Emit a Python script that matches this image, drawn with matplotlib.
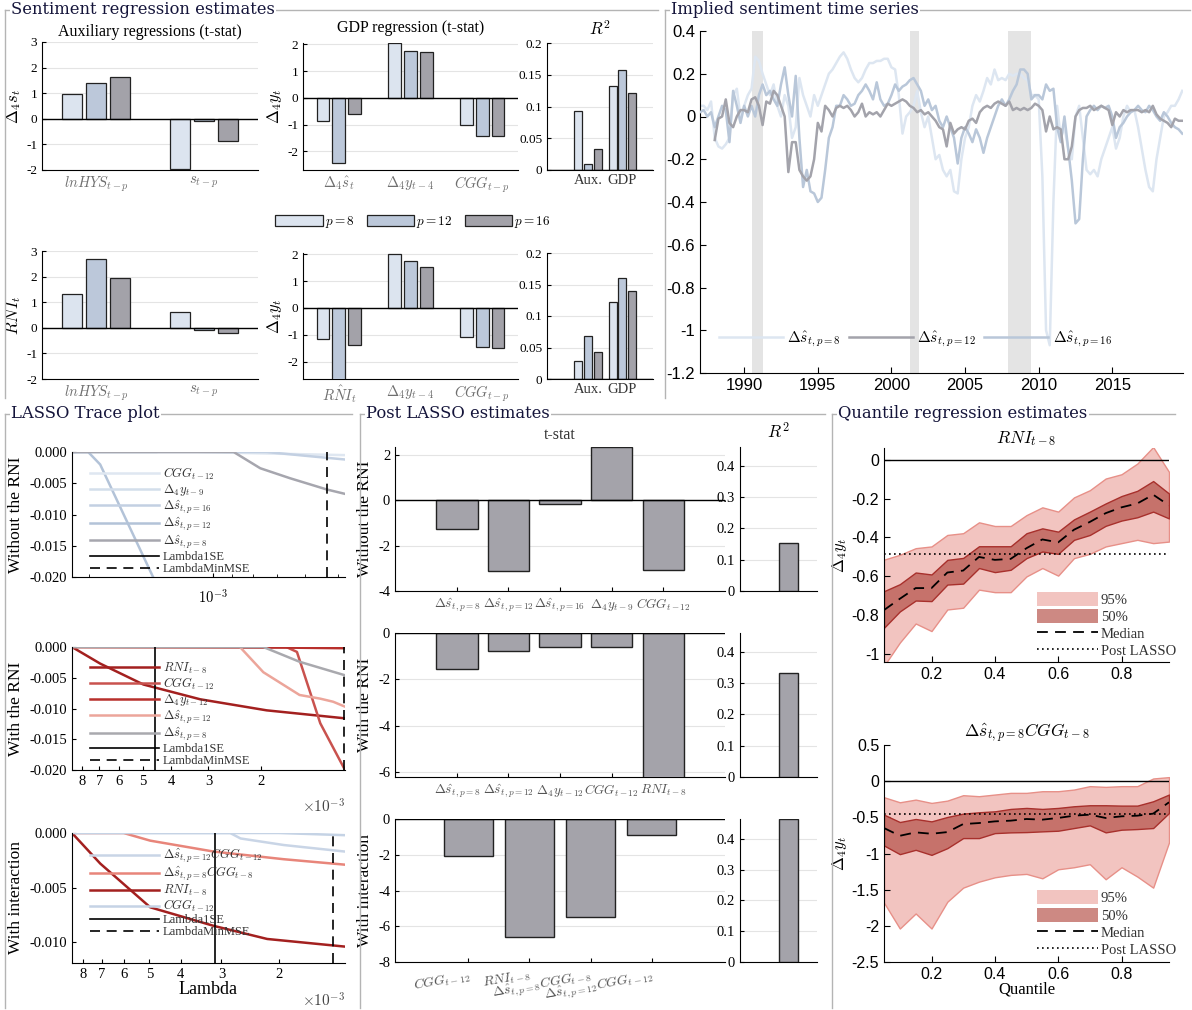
import numpy as np
import matplotlib
matplotlib.use("Agg")
import matplotlib.pyplot as plt
from matplotlib.lines import Line2D
from matplotlib.patches import Patch
from matplotlib.ticker import NullFormatter, NullLocator

plt.rcParams['mathtext.fontset'] = 'cm'
plt.rcParams['font.family'] = ['Liberation Serif', 'DejaVu Serif']
plt.rcParams['axes.unicode_minus'] = False
plt.rcParams['xtick.direction'] = 'in'
plt.rcParams['ytick.direction'] = 'in'

# ---------------- data ----------------
p_labels = ['$p = 8$', '$p = 12$', '$p = 16$']
p_colors = ['#dce4ef', '#bcc8da', '#a3a2a9']

aux_cats = [r'$lnHYS_{t-p}$', r'$s_{t-p}$']
aux_top = [[0.97, 1.40, 1.63], [-1.98, -0.10, -0.85]]
aux_bot = [[1.33, 2.67, 1.95], [0.60, -0.10, -0.20]]

gdp_cats_top = [r'$\Delta_4\hat{s}_t$', r'$\Delta_4 y_{t-4}$', r'$CGG_{t-p}$']
gdp_cats_bot = [r'$R\hat{N}I_t$', r'$\Delta_4 y_{t-4}$', r'$CGG_{t-p}$']
gdp_top = [[-0.85, -2.45, -0.62], [2.05, 1.75, 1.70], [-1.03, -1.43, -1.43]]
gdp_bot = [[-1.15, -2.90, -1.38], [2.03, 1.74, 1.51], [-1.08, -1.46, -1.51]]

r2_cats = ['Aux.', 'GDP']
r2_top = [[0.093, 0.010, 0.033], [0.132, 0.158, 0.122]]
r2_bot = [[0.028, 0.069, 0.043], [0.123, 0.161, 0.139]]

# implied sentiment, quarterly
ts_start_8 = 1987.0
ts_p8 = [0.05, 0.05, 0.03, 0.07,  -0.10, -0.14, -0.15, -0.13,  -0.10, 0.10, 0.13, 0.00,
         0.05, 0.10, 0.13, 0.28,  0.26, 0.20, 0.15, 0.10,  0.15, 0.05, 0.00, 0.10,
         0.05, -0.10, -0.05, 0.18,  0.10, 0.05, 0.00, 0.10,  0.05, 0.10, 0.15, 0.20,
         0.22, 0.25, 0.28, 0.30,  0.27, 0.22, 0.18, 0.16,  0.18, 0.22, 0.25, 0.25,
         0.26, 0.26, 0.27, 0.27,  0.23, 0.22, 0.10, -0.08,  0.00, 0.02, 0.05, 0.12,
         0.02, -0.05, 0.00, -0.10,  -0.20, -0.18, -0.25, -0.28,  -0.25, -0.35, -0.36, -0.20,
         -0.10, -0.05, 0.05, 0.10,  0.07, 0.12, 0.18, 0.15,  0.22, 0.17, 0.18, 0.17,
         0.20, 0.19, 0.20, 0.20,  0.18, 0.17, 0.10, 0.10,  0.08, -0.28, -1.00, -1.07,
         -0.40, 0.05, -0.10, -0.05,  -0.15, -0.20, 0.00, 0.05,  -0.10, -0.25, -0.27, -0.25,
         -0.28, -0.20, -0.15, -0.10,  -0.05, -0.15, -0.10, 0.00,  0.05, 0.02, 0.03, -0.05,
         -0.15, -0.25, -0.33, -0.35,  -0.20, -0.10, 0.00, 0.02,  0.05, 0.05, 0.08, 0.12]
ts_start_12 = 1988.0
ts_p12 = [-0.11, -0.01, 0.00, 0.08,  -0.03, -0.05, 0.00, 0.03,  0.03, 0.02, 0.08, 0.09,
          0.05, -0.04, 0.07, 0.06,  0.12, 0.10, 0.05, 0.00,  -0.26, -0.12, -0.12, -0.25,
          -0.28, -0.30, -0.28, -0.20,  -0.03, -0.07, 0.05, 0.03,  0.00, 0.04, 0.05, 0.04,
          0.05, 0.03, 0.00, 0.02,  0.06, 0.00, 0.02, 0.01,  0.02, 0.00, 0.03, 0.06,
          0.05, 0.06, 0.07, 0.08,  0.07, 0.05, 0.04, 0.02,  0.03, 0.01, 0.02, 0.00,
          -0.02, -0.05, -0.06, -0.14,  -0.03, -0.08, -0.06, -0.05,  -0.06, -0.02, -0.01, -0.03,
          0.02, 0.04, 0.05, 0.04,  0.06, 0.07, 0.06, 0.05,  0.07, 0.03, 0.04, 0.03,
          0.04, 0.03, 0.04, 0.06,  0.05, 0.03, -0.07, 0.00,  -0.06, -0.05, -0.06, -0.20,
          -0.20, -0.14, 0.00, 0.03,  0.04, 0.04, 0.05, 0.03,  0.04, 0.05, 0.04, 0.03,
          -0.04, 0.02, 0.00, 0.03,  0.02, 0.03, 0.03, 0.03,  0.02, 0.03, 0.02, 0.05,
          0.01, -0.01, -0.02, -0.03,  -0.05, -0.01, -0.02, -0.02]
ts_start_16 = 1987.0
ts_p16 = [0.02, 0.03, 0.00, 0.02,  -0.05, 0.00, 0.05, 0.03,  -0.12, 0.12, 0.05, -0.03,
          0.05, 0.00, 0.05, 0.00,  0.10, 0.15, 0.10, 0.12,  0.08, 0.05, 0.15, 0.23,
          0.10, 0.00, 0.19, -0.10,  -0.33, -0.25, -0.35, -0.36,  -0.40, -0.38, -0.25, -0.10,
          -0.05, 0.05, 0.05, 0.10,  0.08, 0.05, 0.06, 0.10,  0.12, 0.15, 0.12, 0.08,
          0.16, 0.08, 0.05, 0.06,  0.10, 0.15, 0.12, 0.14,  0.15, 0.17, 0.18, 0.15,
          0.12, 0.05, 0.08, 0.03,  0.05, -0.02, -0.05, 0.00,  -0.05, -0.10, -0.22, -0.10,
          -0.05, -0.08, -0.12, -0.06,  -0.10, -0.17, -0.10, -0.05,  0.00, 0.05, 0.08, 0.05,
          0.08, 0.12, 0.15, 0.22,  0.22, 0.20, 0.08, 0.10,  0.10, 0.08, 0.15, 0.12,
          0.13, -0.05, -0.12, 0.00,  -0.15, -0.30, -0.50, -0.48,  -0.20, 0.00, 0.03, 0.05,
          0.03, 0.05, 0.04, 0.05,  0.00, -0.10, -0.05, -0.03,  0.00, 0.02, 0.03, 0.05,
          0.03, 0.02, 0.05, 0.03,  0.00, -0.02, 0.02, 0.00,  -0.03, -0.05, -0.06, -0.08]
ts_labels = [r'$\Delta\hat{s}_{t,p=8}$', r'$\Delta\hat{s}_{t,p=12}$', r'$\Delta\hat{s}_{t,p=16}$']
ts_colors = ['#dde6f1', '#a3a3ab', '#b9c7d9']
recessions = [(1990.5, 1991.25), (2001.25, 2001.9), (2007.9, 2009.5)]

# LASSO traces: (label, colour, lambda, coefficient)
lasso_without = [
    (r'$CGG_{t-12}$', '#dfe7f1', [2.2e-3, 1.1e-3, 4.8e-4], [0, 0, -0.0005]),
    (r'$\Delta_4 y_{t-9}$', '#d3deeb', [2.2e-3, 1.37e-3, 1.33e-3], [0, 0, 0.002]),
    (r'$\Delta\hat{s}_{t,p=16}$', '#c3d0e2', [2.2e-3, 7.43e-4, 6.0e-4, 4.8e-4], [0, 0, -0.0006, -0.0012]),
    (r'$\Delta\hat{s}_{t,p=12}$', '#b3c3d8', [2.2e-3, 2.01e-3, 1.88e-3, 1.40e-3, 1.3e-3], [0, 0, -0.002, -0.020, -0.0235]),
    (r'$\Delta\hat{s}_{t,p=8}$', '#a6a6ae', [2.2e-3, 8.93e-4, 7.70e-4, 6.52e-4, 5.31e-4, 4.8e-4],
     [0, 0, -0.0026, -0.0042, -0.0060, -0.0067]),
]
lasso_with = [
    (r'$RNI_{t-8}$', '#a3201f', [8.65e-3, 6.95e-3, 4.97e-3, 3.20e-3, 1.91e-3, 1.04e-3],
     [0, -0.0027, -0.0061, -0.0085, -0.0103, -0.0116]),
    (r'$CGG_{t-12}$', '#c9524e', [8.65e-3, 1.64e-3, 1.51e-3, 1.26e-3, 1.04e-3], [0, 0, -0.0008, -0.0124, -0.020]),
    (r'$\Delta_4 y_{t-12}$', '#b8302c', [8.65e-3, 1.64e-3, 1.04e-3], [0, -0.0001, -0.0002]),
    (r'$\Delta\hat{s}_{t,p=12}$', '#eca59a', [8.65e-3, 2.35e-3, 1.96e-3, 1.48e-3, 1.26e-3, 1.14e-3, 1.04e-3],
     [0, 0, -0.0041, -0.0078, -0.0084, -0.0089, -0.0097]),
    (r'$\Delta\hat{s}_{t,p=8}$', '#a9a9ae', [8.65e-3, 1.96e-3, 1.48e-3, 1.04e-3], [0, 0, -0.0024, -0.0046]),
]
lasso_inter = [
    (r'$\Delta\hat{s}_{t,p=12}CGG_{t-12}$', '#c9d5e6', [8.65e-3, 2.82e-3, 2.62e-3, 1.93e-3, 1.25e-3],
     [0, 0, -0.0005, -0.0011, -0.0017]),
    (r'$\Delta\hat{s}_{t,p=8}CGG_{t-8}$', '#e8857a', [8.65e-3, 6.0e-3, 4.97e-3, 3.17e-3, 1.93e-3, 1.25e-3],
     [0, 0, -0.0007, -0.0017, -0.0024, -0.0029]),
    (r'$RNI_{t-8}$', '#a3201f', [8.65e-3, 7.08e-3, 4.97e-3, 3.17e-3, 2.17e-3, 1.25e-3],
     [0, -0.0028, -0.0068, -0.0085, -0.0097, -0.0104]),
    (r'$CGG_{t-12}$', '#c5d3e5', [8.65e-3, 2.0e-3, 1.25e-3], [0, 0, -0.0002]),
]
lambda_1se = [2.6e-3, 4.54e-3, 3.15e-3]
lambda_minmse = [5.31e-4, 1.045e-3, 1.36e-3]

# post LASSO
post_cats_1 = [r'$\Delta\hat{s}_{t,p=8}$', r'$\Delta\hat{s}_{t,p=12}$', r'$\Delta\hat{s}_{t,p=16}$',
               r'$\Delta_4 y_{t-9}$', r'$CGG_{t-12}$']
post_vals_1 = [-1.25, -3.12, -0.18, 2.35, -3.06]
post_cats_2 = [r'$\Delta\hat{s}_{t,p=8}$', r'$\Delta\hat{s}_{t,p=12}$', r'$\Delta_4 y_{t-12}$',
               r'$CGG_{t-12}$', r'$RNI_{t-8}$']
post_vals_2 = [-1.55, -0.78, -0.62, -0.62, -6.4]
post_cats_3 = [r'$CGG_{t-12}$', r'$RNI_{t-8}$', r'$\Delta\hat{s}_{t,p=8}CGG_{t-8}$',
               r'$\Delta\hat{s}_{t,p=12}CGG_{t-12}$']
post_vals_3 = [-2.05, -6.62, -5.47, -0.92]
post_r2 = [0.153, 0.333, 0.465]

# quantile regressions
quantiles = [0.05, 0.10, 0.15, 0.20, 0.25, 0.30, 0.35, 0.40, 0.45, 0.50,
             0.55, 0.60, 0.65, 0.70, 0.75, 0.80, 0.85, 0.90, 0.95]
rni_med = [-0.773, -0.715, -0.66, -0.66, -0.58, -0.57, -0.50, -0.515, -0.51, -0.455,
           -0.41, -0.425, -0.36, -0.32, -0.275, -0.245, -0.225, -0.18, -0.235]
rni_50_hi = [-0.676, -0.64, -0.58, -0.59, -0.515, -0.505, -0.445, -0.445, -0.445, -0.378,
             -0.353, -0.37, -0.307, -0.267, -0.225, -0.187, -0.16, -0.11, -0.174]
rni_50_lo = [-0.864, -0.78, -0.724, -0.727, -0.642, -0.637, -0.557, -0.578, -0.566, -0.506,
             -0.472, -0.484, -0.412, -0.387, -0.34, -0.313, -0.296, -0.267, -0.302]
rni_95_hi = [-0.514, -0.489, -0.455, -0.446, -0.387, -0.378, -0.322, -0.341, -0.341, -0.285,
             -0.245, -0.267, -0.194, -0.157, -0.097, -0.075, -0.02, 0.065, -0.063]
rni_95_lo = [-1.06, -0.94, -0.842, -0.881, -0.77, -0.761, -0.668, -0.681, -0.681, -0.60,
             -0.557, -0.596, -0.506, -0.484, -0.446, -0.429, -0.412, -0.429, -0.421]
rni_post = -0.485
int_med = [-0.648, -0.755, -0.708, -0.727, -0.704, -0.593, -0.579, -0.556, -0.546, -0.523,
           -0.532, -0.509, -0.477, -0.463, -0.509, -0.486, -0.477, -0.449, -0.292]
int_50_hi = [-0.463, -0.565, -0.523, -0.556, -0.495, -0.449, -0.43, -0.417, -0.384, -0.37,
             -0.384, -0.37, -0.347, -0.333, -0.333, -0.338, -0.338, -0.278, -0.185]
int_50_lo = [-0.889, -1.009, -0.949, -1.019, -0.926, -0.787, -0.787, -0.718, -0.708, -0.704,
             -0.694, -0.685, -0.648, -0.611, -0.708, -0.671, -0.662, -0.648, -0.44]
int_95_hi = [-0.222, -0.292, -0.255, -0.301, -0.269, -0.194, -0.208, -0.185, -0.162, -0.162,
             -0.139, -0.139, -0.116, -0.069, -0.079, -0.069, -0.069, 0.037, 0.056]
int_95_lo = [-1.68, -2.037, -1.829, -2.037, -1.667, -1.472, -1.389, -1.329, -1.296, -1.282,
             -1.343, -1.218, -1.19, -1.148, -1.356, -1.19, -1.319, -1.472, -0.847]
int_post = -0.45

# ---------------- figure ----------------
W, H = 1192, 1010
fig = plt.figure(figsize=(W / 100, H / 100), dpi=100)


def px_axes(l, t, r, b):
    return fig.add_axes([l / W, 1 - b / H, (r - l) / W, (b - t) / H])


def group_box(left, top, right, bottom, title):
    kw = dict(color='#b4b4b4', lw=1, transform=fig.transFigure)
    fig.add_artist(Line2D([left / W, right / W], [1 - top / H, 1 - top / H], **kw))
    fig.add_artist(Line2D([left / W, left / W], [1 - top / H, 1 - bottom / H], **kw))
    fig.text((left + 6) / W, 1 - top / H, title, fontsize=11.8, family='DejaVu Serif',
             color='#14143a', va='center', ha='left',
             bbox=dict(facecolor='white', edgecolor='none', pad=1.0))


def style_bar_axes(ax):
    ax.spines[['top', 'right']].set_visible(False)
    ax.grid(axis='y', color='#e4e4e4', lw=0.8, zorder=0)
    ax.tick_params(axis='x', length=0, pad=3)
    ax.tick_params(axis='y', labelsize=9.5, length=3)


def grouped(ax, vals, cats, offset=0.222, width=0.178):
    vals = np.array(vals)
    x = np.arange(1, len(cats) + 1)
    for j in range(3):
        ax.bar(x + (j - 1) * offset, vals[:, j], width, color=p_colors[j],
               edgecolor='#222222', linewidth=0.9, zorder=3)
    ax.axhline(0, color='black', lw=1, zorder=4)
    ax.set_xticks(x)
    ax.set_xticklabels(cats, color='#6f6f6f', fontsize=10.5)
    style_bar_axes(ax)


# sentiment regression estimates
ax = px_axes(42, 42, 258, 170)
grouped(ax, aux_top, aux_cats)
ax.set_xlim(0.5, 2.5)
ax.set_ylim(-2, 3)
ax.set_yticks([-2, -1, 0, 1, 2, 3])
ax.set_ylabel(r'$\Delta_4 s_t$', fontsize=12, labelpad=2)
ax.set_title('Auxiliary regressions (t-stat)', fontsize=11.5, pad=4)

ax = px_axes(42, 251, 258, 379)
grouped(ax, aux_bot, aux_cats)
ax.set_xlim(0.5, 2.5)
ax.set_ylim(-2, 3)
ax.set_yticks([-2, -1, 0, 1, 2, 3])
ax.set_ylabel(r'$RNI_t$', fontsize=12, labelpad=2)

for box, vals, cats, ylim in [((303, 43, 518, 170), gdp_top, gdp_cats_top, (-2.7, 2.05)),
                              ((303, 253, 518, 379), gdp_bot, gdp_cats_bot, (-2.65, 2.05))]:
    ax = px_axes(*box)
    grouped(ax, vals, cats)
    ax.set_xlim(0.5, 3.5)
    ax.set_ylim(*ylim)
    ax.set_yticks([-2, -1, 0, 1, 2])
    ax.set_ylabel(r'$\Delta_4 y_t$', fontsize=12, labelpad=2)
    if vals is gdp_top:
        ax.set_title('GDP regression (t-stat)', fontsize=11.5, pad=8)

for box, vals in [((547, 43, 653, 170), r2_top), ((547, 253, 653, 379), r2_bot)]:
    ax = px_axes(*box)
    grouped(ax, vals, r2_cats, offset=0.28, width=0.235)
    ax.set_xlim(-0.2, 2.9)
    ax.set_ylim(0, 0.2)
    ax.set_yticks([0, 0.05, 0.1, 0.15, 0.2])
    ax.set_yticklabels(['0', '0.05', '0.1', '0.15', '0.2'])
    for lbl in ax.get_xticklabels():
        lbl.set_color('#333333')
    if vals is r2_top:
        ax.set_title('$R^2$', fontsize=12, pad=6)

fig.legend([Patch(facecolor=c, edgecolor='#222222', lw=0.9) for c in p_colors], p_labels,
           loc='center', bbox_to_anchor=(413 / W, 1 - 222 / H), ncol=3, frameon=False,
           fontsize=9.5, handlelength=3.6, handleheight=1.0, handletextpad=0.15, columnspacing=0.9)

# implied sentiment time series
ax = px_axes(700, 31, 1183, 373)
for a, b in recessions:
    ax.axvspan(a, b, color='#e4e4e4', lw=0, zorder=0)
for start, series, lab, col, z in [(ts_start_8, ts_p8, ts_labels[0], ts_colors[0], 2),
                                    (ts_start_12, ts_p12, ts_labels[1], ts_colors[1], 4),
                                    (ts_start_16, ts_p16, ts_labels[2], ts_colors[2], 3)]:
    dates = start + 0.25 * np.arange(len(series))
    ax.plot(dates, series, color=col, lw=1.8, label=lab, zorder=z)
ax.set_xlim(1987, 2019.8)
ax.set_ylim(-1.2, 0.4)
ax.set_xticks([1990, 1995, 2000, 2005, 2010, 2015])
ax.set_yticks([0.4, 0.2, 0, -0.2, -0.4, -0.6, -0.8, -1, -1.2])
ax.set_yticklabels(['0.4', '0.2', '0', '-0.2', '-0.4', '-0.6', '-0.8', '-1', '-1.2'])
for lbl in ax.get_xticklabels() + ax.get_yticklabels():
    lbl.set_family(['Liberation Sans', 'DejaVu Sans'])
ax.tick_params(labelsize=12, length=4)
ax.spines[['top', 'right']].set_visible(False)
ax.legend(loc='lower left', bbox_to_anchor=(0.01, 0.03), ncol=3, frameon=False, fontsize=11,
          handlelength=4.2, handletextpad=0.3, columnspacing=0.5)


# LASSO traces
def lasso_panel(box, traces, l1se, lmin, xlim, ylim, yticks, ylabel):
    ax = px_axes(*box)
    handles = []
    for lab, col, lam, coef in traces:
        h, = ax.plot(lam, coef, color=col, lw=1.8, label=lab)
        handles.append(h)
    h1 = ax.axvline(l1se, color='black', lw=1.2, label='Lambda1SE')
    h2 = ax.axvline(lmin, color='black', lw=1.2, ls=(0, (6, 4)), label='LambdaMinMSE')
    handles += [h1, h2]
    ax.set_xscale('log')
    ax.set_xlim(*xlim)
    ax.set_ylim(*ylim)
    ax.set_yticks(yticks)
    ax.set_yticklabels(['%.3f' % v for v in yticks])
    ax.spines[['top', 'right']].set_visible(False)
    ax.tick_params(labelsize=10.5, length=3)
    ax.set_ylabel(ylabel, fontsize=12.5, labelpad=4)
    leg = ax.legend(handles=handles, loc='upper left', bbox_to_anchor=(0.04, 0.95), frameon=False,
                    fontsize=9, handlelength=5.5, labelspacing=0.0, handletextpad=0.3,
                    borderaxespad=0.2)
    for t in leg.get_texts():
        t.set_color('#333333')
    return ax


ax = lasso_panel((72, 452, 345, 577), lasso_without, lambda_1se[0], lambda_minmse[0],
                 (2.2e-3, 4.8e-4), (-0.02, 0.0), [-0.02, -0.015, -0.01, -0.005, 0.0], 'Without the RNI')
ax.set_xticks([1e-3])
ax.set_xticklabels(['$10^{-3}$'])
ax.xaxis.set_minor_formatter(NullFormatter())
ax.tick_params(axis='x', pad=8)

for box, traces, i, xlim, ylim, yticks, ylabel in [
        ((72, 647, 345, 770), lasso_with, 1, (8.65e-3, 1.04e-3), (-0.02, 0.0),
         [-0.02, -0.015, -0.01, -0.005, 0.0], 'With the RNI'),
        ((72, 833, 345, 963), lasso_inter, 2, (8.65e-3, 1.25e-3), (-0.0119, 0.0),
         [-0.01, -0.005, 0.0], 'With interaction')]:
    ax = lasso_panel(box, traces, lambda_1se[i], lambda_minmse[i], xlim, ylim, yticks, ylabel)
    ticks = [8e-3, 7e-3, 6e-3, 5e-3, 4e-3, 3e-3, 2e-3]
    ax.set_xticks(ticks)
    ax.set_xticklabels(['8', '7', '6', '5', '4', '3', '2'])
    ax.xaxis.set_minor_locator(NullLocator())
    ax.text(1.0, -0.22, r'$\times 10^{-3}$', transform=ax.transAxes, ha='right', va='top',
            fontsize=11, color='#444444')
    if i == 2:
        ax.set_xlabel('Lambda', fontsize=13, labelpad=0)


# post LASSO estimates
def post_panel(box, vals, cats, xlim, ylim, yticks, ylabel, rot=0):
    ax = px_axes(*box)
    x = np.arange(1, len(vals) + 1)
    ax.bar(x, vals, 0.8, color='#a4a3aa', edgecolor='#222222', lw=1, zorder=3)
    ax.axhline(0, color='black', lw=1, zorder=4)
    ax.set_xlim(*xlim)
    ax.set_ylim(*ylim)
    ax.set_yticks(yticks)
    ax.set_xticks(x)
    if rot:
        ax.set_xticklabels(cats, rotation=rot, ha='right', rotation_mode='anchor', fontsize=10,
                           color='#555555')
    else:
        ax.set_xticklabels(cats, fontsize=9.5, color='#555555')
    style_bar_axes(ax)
    ax.tick_params(axis='y', labelsize=10.5)
    ax.tick_params(axis='x', length=3, pad=4)
    ax.set_ylabel(ylabel, fontsize=12.5, labelpad=4)
    return ax


def post_r2_panel(box, val, ylim):
    ax = px_axes(*box)
    ax.bar([1], [val], 0.8, color='#a4a3aa', edgecolor='#222222', lw=1, zorder=3)
    ax.set_xlim(-1.0, 2.2)
    ax.set_ylim(*ylim)
    ax.set_yticks([0, 0.1, 0.2, 0.3, 0.4])
    ax.set_yticklabels(['0', '0.1', '0.2', '0.3', '0.4'])
    ax.set_xticks([])
    style_bar_axes(ax)
    ax.tick_params(axis='y', labelsize=10.5)
    return ax


ax = post_panel((395, 447, 725, 591), post_vals_1, post_cats_1, (-0.2, 6.2), (-4, 2.35), [-4, -2, 0, 2],
                'Without the RNI')
ax.set_title('t-stat', fontsize=11.5, pad=6, color='#333333')
ax = post_r2_panel((740, 447, 817, 591), post_r2[0], (0, 0.46))
ax.set_title('$R^2$', fontsize=12.5, pad=6)
post_panel((395, 633, 725, 777), post_vals_2, post_cats_2, (-0.2, 6.2), (-6.2, 0), [-6, -4, -2, 0],
           'With the RNI')
post_r2_panel((740, 633, 817, 777), post_r2[1], (0, 0.46))
post_panel((395, 819, 725, 962), post_vals_3, post_cats_3, (-0.2, 5.2), (-8, 0), [-8, -6, -4, -2, 0],
           'With interaction', rot=10)
post_r2_panel((740, 819, 817, 962), post_r2[2], (0, 0.465))


# quantile regression estimates
def quant_panel(box, med, lo50, hi50, lo95, hi95, post, ylim, yticks, title, xlabel=None):
    ax = px_axes(*box)
    ax.fill_between(quantiles, lo95, hi95, facecolor='#f2c4c0', edgecolor='#e79088', lw=1, zorder=1)
    ax.fill_between(quantiles, lo50, hi50, facecolor='#c6726b', edgecolor='#a8302c', lw=1, zorder=2)
    ax.axhline(0, color='black', lw=1, zorder=3)
    ax.axhline(post, color='black', lw=1.2, ls=(0, (1, 2)), zorder=4)
    ax.plot(quantiles, med, color='black', lw=1.3, ls=(0, (6, 4)), zorder=5)
    ax.set_xlim(0.05, 0.95)
    ax.set_ylim(*ylim)
    ax.set_yticks(yticks)
    ax.set_yticklabels(['%g' % v for v in yticks])
    ax.set_xticks([0.2, 0.4, 0.6, 0.8])
    for lbl in ax.get_xticklabels() + ax.get_yticklabels():
        lbl.set_family(['Liberation Sans', 'DejaVu Sans'])
    ax.tick_params(labelsize=11.5, length=4)
    ax.spines[['top', 'right']].set_visible(False)
    ax.set_ylabel(r'$\Delta_4 y_t$', fontsize=12, labelpad=2)
    ax.set_title(title, fontsize=12.5, pad=3)
    if xlabel:
        ax.set_xlabel(xlabel, fontsize=12, labelpad=0)
    handles = [Patch(facecolor='#f2c4c0', edgecolor='none'), Patch(facecolor='#cd8983', edgecolor='none'),
               Line2D([], [], color='black', lw=1.3, ls=(0, (6, 4))),
               Line2D([], [], color='black', lw=1.2, ls=(0, (1, 2)))]
    leg = ax.legend(handles, ['95%', '50%', 'Median', 'Post LASSO'], loc='upper left',
                    bbox_to_anchor=(0.49, 0.39), frameon=False, fontsize=10.5, handlelength=4.2,
                    handleheight=1.1, labelspacing=0.15, handletextpad=0.2)
    for t in leg.get_texts():
        t.set_color('#333333')
    return ax


quant_panel((884, 448, 1169, 662), rni_med, rni_50_lo, rni_50_hi, rni_95_lo, rni_95_hi, rni_post,
            (-1.04, 0.06), [-1, -0.8, -0.6, -0.4, -0.2, 0], r'$RNI_{t-8}$')
quant_panel((884, 745, 1169, 962), int_med, int_50_lo, int_50_hi, int_95_lo, int_95_hi, int_post,
            (-2.5, 0.5), [-2.5, -2, -1.5, -1, -0.5, 0, 0.5], r'$\Delta\hat{s}_{t,p=8}CGG_{t-8}$',
            xlabel='Quantile')

# panel frames
group_box(5, 10, 658, 398, 'Sentiment regression estimates')
group_box(665, 10, 1190, 398, 'Implied sentiment time series')
group_box(5, 414, 352, 1008, 'LASSO Trace plot')
group_box(360, 414, 825, 1008, 'Post LASSO estimates')
group_box(832, 414, 1175, 1008, 'Quantile regression estimates')

fig.savefig('out.png', dpi=100)
